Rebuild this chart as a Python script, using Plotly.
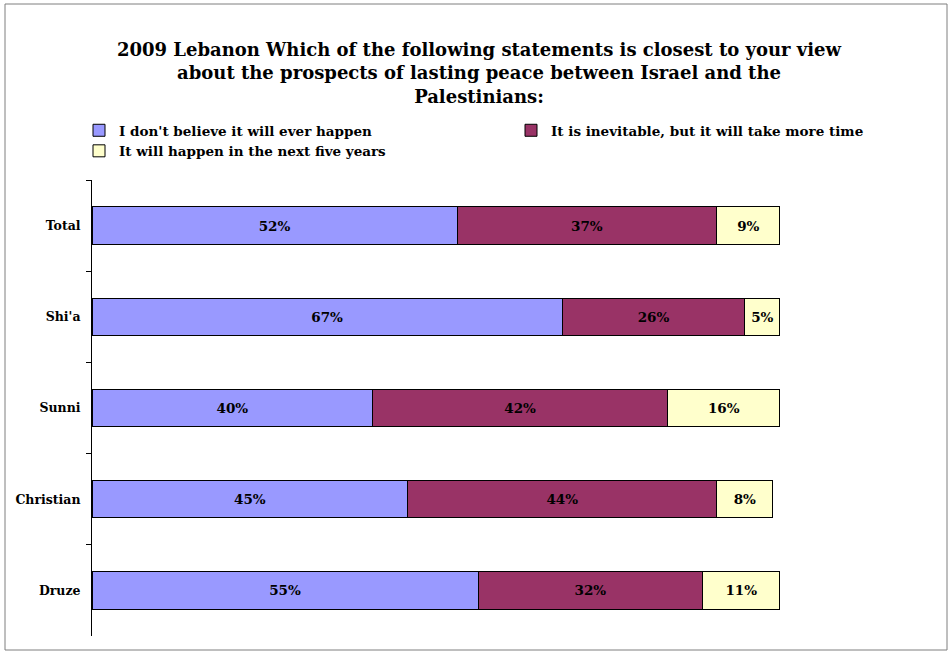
import plotly.graph_objects as go

categories = ["Total", "Shi'a", "Sunni", "Christian", "Druze"]
series_names = [
    "I don't believe it will ever happen",
    "It is inevitable, but it will take more time",
    "It will happen in the next five years",
]
never = [52, 67, 40, 45, 55]
inevitable = [37, 26, 42, 44, 32]
five_years = [9, 5, 16, 8, 11]
colors = ["#9999FF", "#993366", "#FFFFCC"]

FONT = "DejaVu Serif"
W, H = 951, 654
L, R, T, B = 92, 11, 180, 18
pw, ph = W - L - R, H - T - B
PX_PER_PCT = 7.02
x_max = pw / PX_PER_PCT

def px_x(p):
    return (p - L) / pw

def px_y(p):
    return (H - B - p) / ph

fig = go.Figure()
for name, vals, col in zip(series_names, [never, inevitable, five_years], colors):
    fig.add_trace(go.Bar(
        y=categories, x=vals, name=name, orientation="h",
        marker=dict(color=col, line=dict(color="black", width=1)),
        text=[f"{v}%" for v in vals], textposition="inside",
        insidetextanchor="middle", constraintext="none",
        textfont=dict(family=FONT, size=13.5, color="black", weight="bold"),
    ))

fig.update_layout(
    barmode="stack", bargap=0.59,
    width=W, height=H,
    margin=dict(l=L, r=R, t=T, b=B),
    paper_bgcolor="white", plot_bgcolor="white",
    font=dict(family=FONT, color="black"),
    title=dict(
        text="2009 Lebanon Which of the following statements is closest to your view<br>about the prospects of lasting peace between Israel and the<br>Palestinians:",
        x=479 / W, xref="container", xanchor="center",
        y=1 - 56 / H, yref="container", yanchor="top",
        font=dict(family=FONT, size=18, color="black", weight="bold"),
    ),
    legend=dict(
        orientation="h",
        x=px_x(79), y=px_y(115), xanchor="left", yanchor="top",
        entrywidth=387, entrywidthmode="pixels",
        font=dict(family=FONT, size=13.5, color="black", weight="bold"),
        itemwidth=30, traceorder="normal",
    ),
    showlegend=True,
    xaxis=dict(range=[0, x_max], visible=False, fixedrange=True),
    yaxis=dict(
        categoryorder="array", categoryarray=categories, autorange="reversed",
        showline=True, linecolor="black", linewidth=1,
        ticks="outside", tickson="boundaries", ticklen=5, tickcolor="black",
        showgrid=False, ticklabelstandoff=8,
        tickfont=dict(family=FONT, size=12.5, color="black", weight="bold"),
    ),
    shapes=[dict(
        type="rect", xref="paper", yref="paper",
        x0=px_x(5), x1=px_x(947), y0=px_y(650), y1=px_y(4),
        line=dict(color="#7f7f7f", width=1), fillcolor="rgba(0,0,0,0)",
    )],
)

fig.write_html("out.html")
